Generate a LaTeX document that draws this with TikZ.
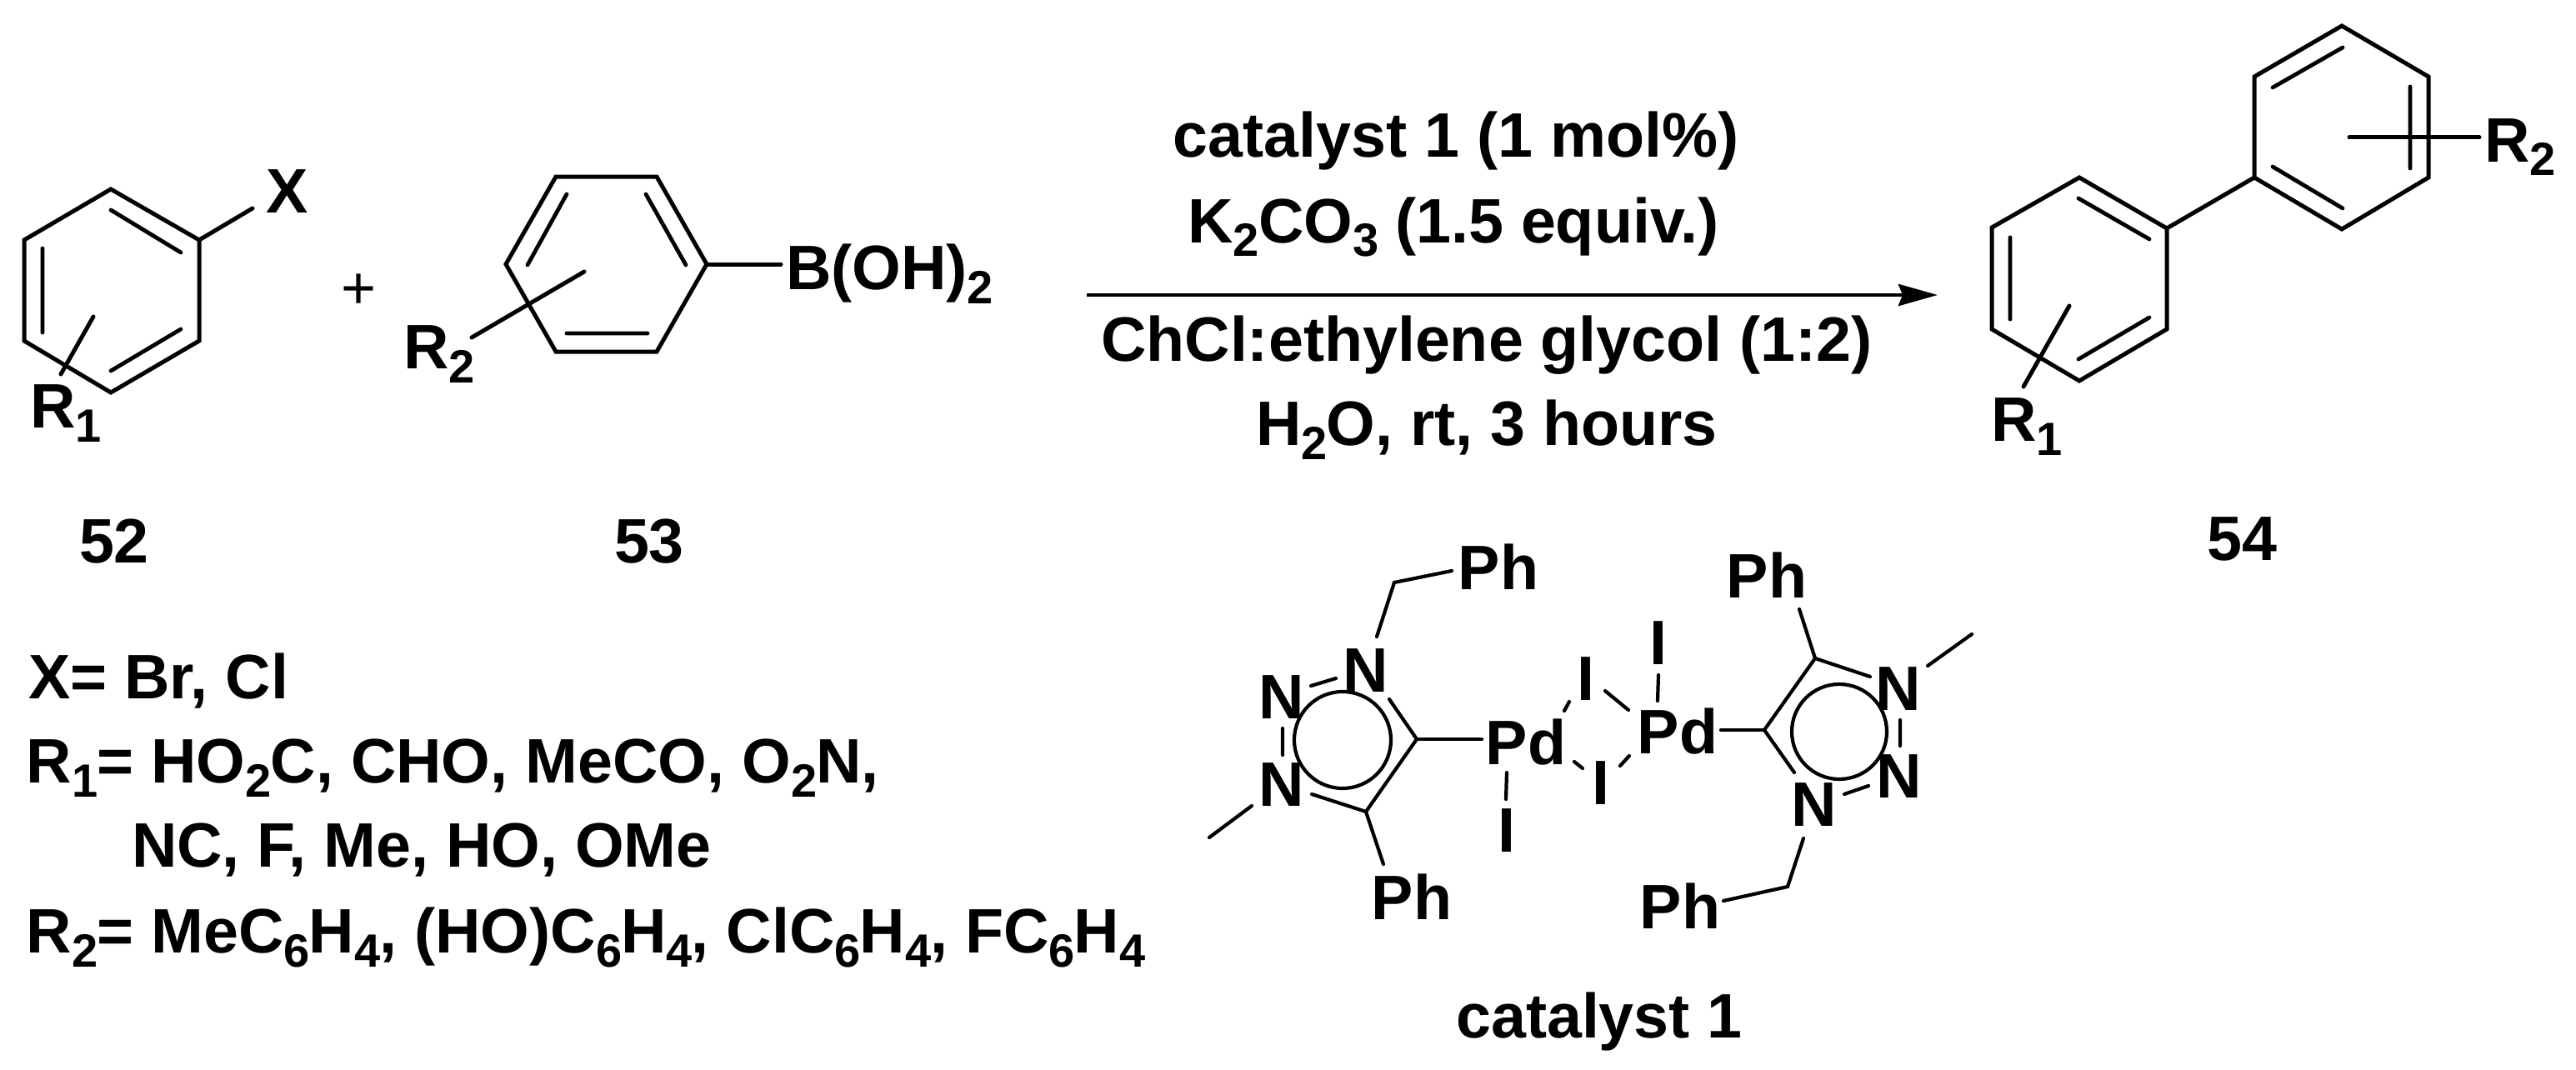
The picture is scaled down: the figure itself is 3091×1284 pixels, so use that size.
\documentclass[tikz,border=0pt]{standalone}
\usepackage{fontspec}
\setmainfont{Liberation Sans}
\usetikzlibrary{arrows.meta}
\newcommand{\sbs}[1]{\raisebox{-8.5pt}{\fontsize{28}{28}\selectfont #1}\kern-0.5pt\relax}
\tikzset{
  lbl/.style={inner sep=0pt,outer sep=0pt,anchor=base,font=\fontsize{37.7}{40}\selectfont\bfseries},
  lblw/.style={lbl,anchor=base west},
  bond/.style={line width=2.5pt,line cap=round,line join=miter,black},
  inner/.style={line width=2.4pt,line cap=round,black},
  catbond/.style={line width=2.1pt,line cap=round,line join=miter,black},
  thin/.style={line width=2.1pt,line cap=round,black},
  rxn/.style={line width=2.25pt,black,-{Stealth[length=23.5pt,width=13pt,inset=2.5pt]}}
}
\begin{document}
\begin{tikzpicture}[x=0.5pt,y=-0.5pt]
\path[fill=white] (0,0) rectangle (3091,1284);
\useasboundingbox (0,0) rectangle (3091,1284);
% ---- 52
\coordinate (a1) at (133,227); \coordinate (a2) at (239,288); \coordinate (a3) at (239,409);
\coordinate (a4) at (133,471); \coordinate (a5) at (29,409); \coordinate (a6) at (29,288);
\draw[bond] (a1)--(a2)--(a3)--(a4)--(a5)--(a6)--cycle;
\draw[inner] (133,252)--(217,303) (51,298)--(51,399) (217,395)--(133,445);
\node[lblw] (x) at (319,256) {X};
\coordinate (xe) at (303,250);
\draw[bond] (a2)--(xe);
\node[lblw] (r1a) at (36,513) {R\sbs{1}};
\coordinate (r1s) at (112,380); \coordinate (r1e) at (73,449);
\draw[bond] (r1s)--(r1e);
\node[lbl,font=\fontsize{36}{40}\selectfont] (plus) at (431,370) {+};
% ---- 53
\coordinate (b1) at (667,212); \coordinate (b2) at (788,212); \coordinate (b3) at (848,317);
\coordinate (b4) at (788,422); \coordinate (b5) at (667,422); \coordinate (b6) at (607,317);
\draw[bond] (b1)--(b2)--(b3)--(b4)--(b5)--(b6)--cycle;
\draw[inner] (680,233)--(633,318) (775,233)--(823,318) (680,400)--(777,400);
\node[lblw] (boh) at (943,347) {B(OH)\sbs{2}};
\coordinate (be) at (937,317);
\draw[bond] (b3)--(be);
\node[lblw] (r2a) at (484,442) {R\sbs{2}};
\coordinate (r2s) at (701,326); \coordinate (r2e) at (566,405);
\draw[bond] (r2s)--(r2e);
\node[lbl] (n52) at (137,675) {52};
\node[lbl] (n53) at (779,675) {53};
% ---- arrow and conditions
\coordinate (ars) at (1304,354); \coordinate (are) at (2325,354);
\draw[rxn] (ars)--(are);
\node[lbl] (c1) at (1747,189) {catalyst 1 (1 mol\%)};
\node[lbl] (c2) at (1744,291) {K\sbs{2}CO\sbs{3} (1.5 equiv.)};
\node[lbl] (c3) at (1784,433) {ChCl:ethylene glycol (1:2)};
\node[lbl] (c4) at (1784,534) {H\sbs{2}O, rt, 3 hours};
% ---- 54
\coordinate (p1) at (2810,31); \coordinate (p2) at (2914,92); \coordinate (p3) at (2914,213);
\coordinate (p4) at (2810,275); \coordinate (p5) at (2705,213); \coordinate (p6) at (2705,92);
\draw[bond] (p1)--(p2)--(p3)--(p4)--(p5)--(p6)--cycle;
\draw[inner] (2727,105)--(2811,57) (2892,104)--(2892,202) (2727,200)--(2811,250);
\coordinate (q1) at (2495,213); \coordinate (q2) at (2600,274); \coordinate (q3) at (2600,395);
\coordinate (q4) at (2495,457); \coordinate (q5) at (2390,395); \coordinate (q6) at (2390,273);
\draw[bond] (q1)--(q2)--(q3)--(q4)--(q5)--(q6)--cycle;
\draw[inner] (2494,238)--(2579,287) (2412,285)--(2412,383) (2579,381)--(2494,431);
\draw[bond] (p5)--(q2);
\node[lblw] (r1b) at (2389,529) {R\sbs{1}};
\coordinate (s1s) at (2483,367); \coordinate (s1e) at (2428,464);
\draw[bond] (s1s)--(s1e);
\node[lblw] (r2b) at (2981,194) {R\sbs{2}};
\coordinate (s2s) at (2819,165); \coordinate (s2e) at (2975,165);
\draw[bond] (s2s)--(s2e);
\node[lbl] (n54) at (2690,672) {54};
% ---- legend
\node[lblw] (l1) at (34,838) {X= Br, Cl};
\node[lblw] (l2) at (32,939) {R\sbs{1}= HO\sbs{2}C, CHO, MeCO, O\sbs{2}N,};
\node[lblw] (l3) at (158,1040) {NC, F, Me, HO, OMe};
\node[lblw] (l4) at (32,1143) {R\sbs{2}= MeC\sbs{6}H\sbs{4}, (HO)C\sbs{6}H\sbs{4}, ClC\sbs{6}H\sbs{4}, FC\sbs{6}H\sbs{4}};
% ---- catalyst, left half
\node[lbl] (ph1) at (1798,707) {Ph};
\node[lbl] (ph2) at (1694,1103) {Ph};
\node[lbl] (nl1) at (1639,830) {N};
\node[lbl] (nl2) at (1538,862) {N};
\node[lbl] (nl3) at (1538,967) {N};
\node[lbl] (pd1) at (1831,917) {Pd};
\node[lbl] (il1) at (1808,1022) {I};
\node[lbl] (ib1) at (1903,840) {I};
\node[lbl] (ib2) at (1921,965) {I};
\coordinate (c4l) at (1700,887); \coordinate (c5l) at (1639,974); \coordinate (ch2l) at (1673,699);
\draw[catbond] (1667,839)--(c4l)--(c5l)--(1574,953);
\draw[catbond] (1652,764)--(ch2l)--(1742,685);
\draw[catbond] (c4l)--(1778,887);
\draw[catbond] (c5l)--(1660,1037);
\draw[catbond] (1502,967)--(1451,1005);
\draw[thin] (1573,823)--(1603,814) (1539,874)--(1539,906);
\draw[thin] (1611,888) circle[radius=58];
\draw[catbond] (1808,927)--(1807,959);
\draw[thin] (1883,842)--(1877,853) (1926,829)--(1954,852) (1889,914)--(1899,922) (1955,907)--(1944,919);
% ---- catalyst, right half
\node[lbl] (pd2) at (2013,904) {Pd};
\node[lbl] (ir1) at (1990,797) {I};
\node[lbl] (ph3) at (2120,717) {Ph};
\node[lbl] (ph4) at (2016,1114) {Ph};
\node[lbl] (nr1) at (2278,852) {N};
\node[lbl] (nr2) at (2279,957) {N};
\node[lbl] (nr3) at (2177,991) {N};
\coordinate (c4r) at (2117,876); \coordinate (c5r) at (2178,790); \coordinate (ch2r) at (2145,1064);
\draw[catbond] (2153,927)--(c4r)--(c5r)--(2244,812);
\draw[catbond] (2065,876)--(c4r);
\draw[catbond] (2159,731)--(c5r);
\draw[catbond] (2164,1006)--(ch2r)--(2068,1081);
\draw[catbond] (2313,799)--(2366,761);
\draw[thin] (2213,953)--(2242,943) (2280,864)--(2280,895);
\draw[thin] (2207,878) circle[radius=57];
\draw[catbond] (1990,810)--(1989,841);
\node[lbl] (cat) at (1919,1245) {catalyst 1};
\end{tikzpicture}
\end{document}
